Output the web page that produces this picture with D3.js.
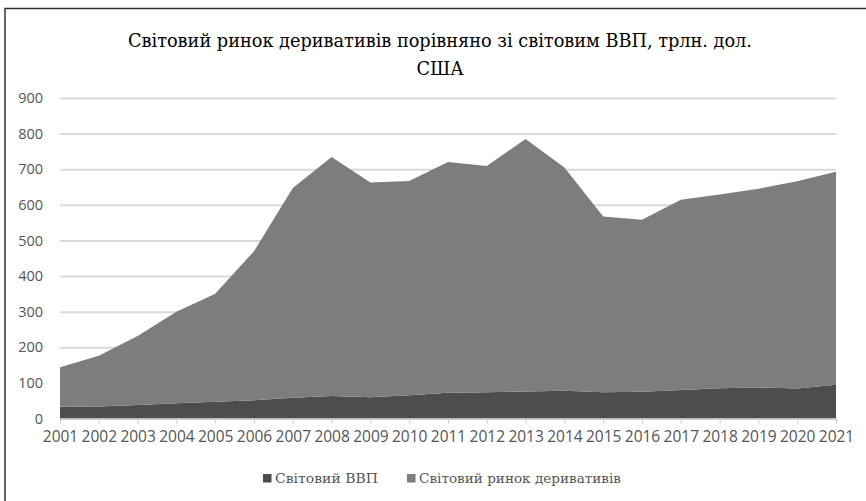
<!DOCTYPE html>
<html>
<head>
<meta charset="utf-8">
<script src="https://cdn.jsdelivr.net/npm/d3@7"></script>
<style>
  body { margin: 0; background: #fff; }
  .serif { font-family: "DejaVu Serif Condensed", "DejaVu Serif", serif; }
</style>
</head>
<body>
<div id="chart"></div>
<script>
let years = [2001, 2002, 2003, 2004, 2005, 2006, 2007, 2008, 2009, 2010, 2011,
             2012, 2013, 2014, 2015, 2016, 2017, 2018, 2019, 2020, 2021];
let gdp = [33, 34, 38, 43, 47, 51, 58, 63, 60, 65, 72,
           74, 76, 78, 74, 75, 80, 85, 87, 84, 95];
let derivatives = [111, 142, 194, 257, 303, 419, 589, 671, 603, 602, 648,
                   635, 709, 627, 493, 483, 534, 544, 558, 582, 598];
let keys = ["Світовий ВВП", "Світовий ринок деривативів"];
let yTicks = [0, 100, 200, 300, 400, 500, 600, 700, 800, 900];
let titleLines = ["Світовий ринок деривативів порівняно зі світовим ВВП, трлн. дол.", "США"];

let width = 866, height = 501;

let data = years.map((yr, i) => ({year: yr, [keys[0]]: gdp[i], [keys[1]]: derivatives[i]}));

let x = d3.scaleLinear()
  .domain([years[0], years[years.length - 1]])
  .range([60, 836]);

let y = d3.scaleLinear()
  .domain([0, 900])
  .range([418.5, 98]);

let color = d3.scaleOrdinal()
  .domain(keys)
  .range(["#4d4d4d", "#7d7d7d"]);

let series = d3.stack().keys(keys)(data);

let area = d3.area()
  .x(d => x(d.data.year))
  .y0(d => y(d[0]))
  .y1(d => y(d[1]));

const svg = d3.select("#chart").append("svg")
  .attr("width", width)
  .attr("height", height);

// frame
svg.append("path")
  .attr("d", "M5,520 L5,8.5 L870,8.5")
  .attr("fill", "none")
  .attr("stroke", "#333")
  .attr("stroke-width", 1.5);

// title, squeezed to the narrow Times-like width of the original
let title = svg.append("g")
  .selectAll("text")
  .data(titleLines)
  .join("text")
    .attr("class", "serif")
    .attr("x", 440)
    .attr("y", (d, i) => 47 + i * 28)
    .attr("text-anchor", "middle")
    .attr("font-size", "19px")
    .attr("fill", "#000")
    .text(d => d);

let squeeze = 624 / title.nodes()[0].getComputedTextLength();
title.each(function() {
  let w = this.getComputedTextLength();
  d3.select(this).attr("textLength", w * squeeze).attr("lengthAdjust", "spacingAndGlyphs");
});

// gridlines + y labels
let yAxis = g => g
  .attr("transform", `translate(${x(years[0])},0)`)
  .call(d3.axisLeft(y).tickValues(yTicks).tickSize(-(x(2021) - x(2001))).tickPadding(17))
  .call(g => g.select(".domain").remove())
  .call(g => g.selectAll(".tick line").attr("stroke", "#d9d9d9").attr("stroke-width", 2))
  .call(g => g.selectAll(".tick text")
    .attr("font-family", "Open Sans")
    .attr("font-size", "14.5px")
    .attr("fill", "#555"));

svg.append("g").call(yAxis);

svg.append("g")
  .selectAll("path")
  .data(series)
  .join("path")
    .attr("fill", ({key}) => color(key))
    .attr("d", area)
  .append("title")
    .text(({key}) => key);

let xAxis = g => g
  .attr("transform", `translate(0,${y(0)})`)
  .call(d3.axisBottom(x).tickValues(years).tickSize(5).tickSizeOuter(0).tickPadding(7).tickFormat(d3.format("d")))
  .call(g => g.select(".domain").attr("stroke", "#c8c8c8").attr("stroke-width", 1.5))
  .call(g => g.selectAll(".tick line").attr("stroke", "#c8c8c8"))
  .call(g => g.selectAll(".tick text")
    .attr("font-family", "Open Sans")
    .attr("font-size", "15.5px")
    .attr("fill", "#555"));

svg.append("g").call(xAxis);

// legend
let legendX = [263, 407];
let legendW = [103, 202];
let legend = svg.append("g")
  .selectAll("g")
  .data(keys)
  .join("g")
    .attr("transform", (d, i) => `translate(${legendX[i]},474)`);

legend.append("rect")
  .attr("width", 8.5)
  .attr("height", 8.5)
  .attr("fill", d => color(d));

legend.append("text")
  .attr("class", "serif")
  .attr("x", 12)
  .attr("y", 9)
  .attr("font-size", "13px")
  .attr("fill", "#555")
  .attr("textLength", (d, i) => legendW[i])
  .attr("lengthAdjust", "spacingAndGlyphs")
  .text(d => d);
</script>
</body>
</html>
